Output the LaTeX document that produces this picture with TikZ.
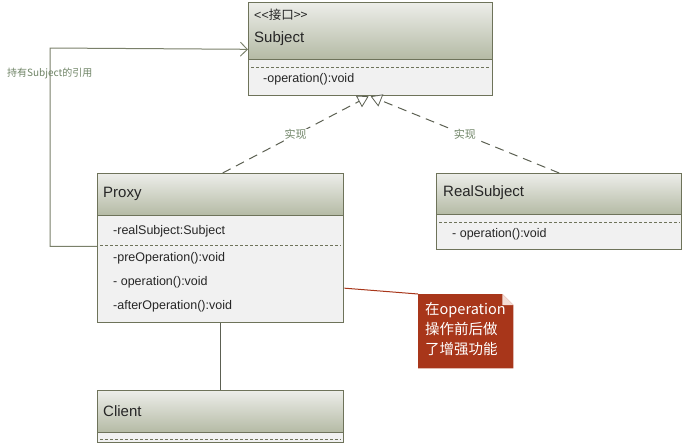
\documentclass[tikz,border=0pt]{standalone}
\usepackage{fontspec}
\setmainfont{Liberation Sans}
\newfontfamily\cjk{Noto Sans CJK SC}
\usetikzlibrary{arrows.meta}
\definecolor{umlborder}{HTML}{6E735A}
\definecolor{hdtop}{HTML}{ECEDE9}
\definecolor{hdbot}{HTML}{B4BAA4}
\definecolor{bodyfill}{HTML}{F1F1F1}
\definecolor{linegray}{HTML}{5C6052}
\definecolor{assocgray}{HTML}{7A806A}
\definecolor{lblgreen}{HTML}{6F8466}
\definecolor{noteRed}{HTML}{A8361A}
\definecolor{noteFold}{HTML}{F3DDD6}
\begin{document}
\begin{tikzpicture}[x=1pt,y=-1pt,
  hdr/.style={draw=umlborder, line width=1.3pt, top color=hdtop, bottom color=hdbot, anchor=north west, inner sep=0pt},
  bdy/.style={draw=umlborder, line width=1.3pt, fill=bodyfill, anchor=north west, inner sep=0pt},
  title/.style={anchor=west, font=\fontsize{15}{17}\selectfont, inner sep=0pt, text=black!85},
  member/.style={anchor=west, font=\fontsize{12.5}{14}\selectfont, inner sep=0pt, text=black!85},
  sep/.style={densely dashed, draw=umlborder, line width=0.6pt},
  realize/.style={draw=linegray, line width=1pt, dash pattern=on 9pt off 6pt, -{Triangle[length=11pt,width=13pt,fill=white,line width=0.8pt]}},
  assoc/.style={draw=assocgray, line width=1pt, -{Straight Barb[length=7pt,width=14pt,line width=0.9pt]}},
  lbl/.style={font=\cjk\fontsize{11}{13}\selectfont, text=lblgreen, inner sep=1pt}
]
\useasboundingbox (0,0) rectangle (684,445);

% ---- Subject ----
\node[bdy, minimum width=244pt, minimum height=93pt] (subjB) at (248,2) {};
\node[hdr, minimum width=244pt, minimum height=57pt] (subjH) at (248,2) {};
\draw[sep] ([xshift=3pt,yshift=-7pt]subjH.south west) -- ([xshift=-3pt,yshift=-7pt]subjH.south east);
\node[member] (subjStereo) at (254,15) {<{}<\cjk{接口}>{}>};
\node[title] (subjTitle) at (254,39) {Subject};
\node[member] (subjOp) at (263,79) {-operation():void};

% ---- Proxy ----
\node[bdy, minimum width=246pt, minimum height=149pt] (proxyB) at (97,173) {};
\node[hdr, minimum width=246pt, minimum height=42pt] (proxyH) at (97,173) {};
\draw[sep] ([xshift=3pt,yshift=-29pt]proxyH.south west) -- ([xshift=-3pt,yshift=-29pt]proxyH.south east);
\node[title] (proxyTitle) at (103,194) {Proxy};
\node[member] (proxyAttr) at (113,231) {-realSubject:Subject};
\node[member] (proxyPre) at (113,258) {-preOperation():void};
\node[member] (proxyOp) at (113,282) {- operation():void};
\node[member] (proxyAfter) at (113,306) {-afterOperation():void};

% ---- RealSubject ----
\node[bdy, minimum width=245pt, minimum height=76pt] (realB) at (436,173) {};
\node[hdr, minimum width=245pt, minimum height=41pt] (realH) at (436,173) {};
\draw[sep] ([xshift=3pt,yshift=-7pt]realH.south west) -- ([xshift=-3pt,yshift=-7pt]realH.south east);
\node[title] (realTitle) at (443,193) {RealSubject};
\node[member] (realOp) at (452,234) {- operation():void};

% ---- Client ----
\node[bdy, minimum width=246pt, minimum height=52pt] (clientB) at (97,390) {};
\node[hdr, minimum width=246pt, minimum height=42pt] (clientH) at (97,390) {};
\draw[sep] ([xshift=3pt,yshift=-6pt]clientH.south west) -- ([xshift=-3pt,yshift=-6pt]clientH.south east);
\node[title] (clientTitle) at (103,411) {Client};

% ---- connectors ----
\draw[realize] ([xshift=2pt]proxyH.north) -- node[lbl, fill=white] (lblA) {实现} ([xshift=-2pt]subjB.south);
\draw[realize] (realH.north) -- node[lbl, fill=white] (lblB) {实现} (subjB.south);

\coordinate (bendA) at (50,48);
\draw[assoc] ([yshift=-30pt]proxyH.south west) -| (bendA) -- ([yshift=11pt]subjH.south west);
\node[lbl, anchor=west, font=\cjk\fontsize{10}{12}\selectfont] (assocLbl) at (6,73) {持有Subject的引用};

\draw[draw=linegray, line width=0.9pt] (proxyB.south) -- (clientH.north);

% ---- note ----
\node[anchor=north west, minimum width=95pt, minimum height=74pt, inner sep=0pt] (note) at (418,294) {};
\fill[noteRed] (note.north west) -- ([xshift=-11pt]note.north east) -- ([yshift=-11pt]note.north east) -- (note.south east) -- (note.south west) -- cycle;
\fill[noteFold] ([xshift=-11pt]note.north east) -- ([yshift=-11pt]note.north east) -- ([xshift=-11pt,yshift=-11pt]note.north east) -- cycle;
\node[anchor=north west, inner sep=0pt, align=left, text=white, font=\cjk\fontsize{14.5}{20}\selectfont] (noteText) at ([xshift=7pt,yshift=-8pt]note.north west) {在operation\\操作前后做\\了增强功能};
\draw[draw=noteRed, line width=1pt] ([yshift=-40pt]proxyB.east) -- (note.north west);
\end{tikzpicture}
\end{document}
